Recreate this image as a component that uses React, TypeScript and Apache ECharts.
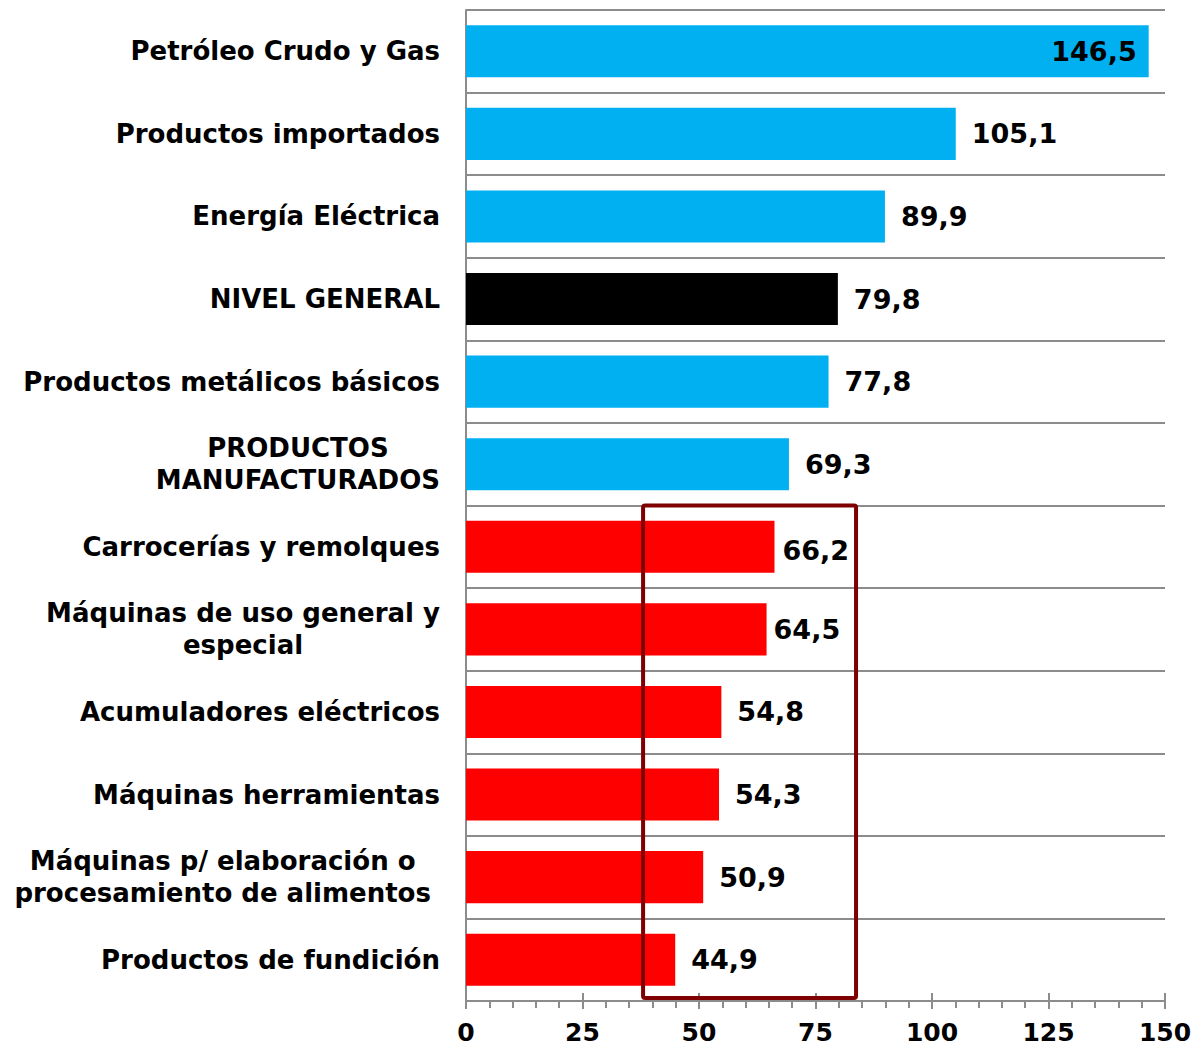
import React, { useEffect, useRef } from "react";
import * as echarts from "echarts";

const categories = [
  "Petróleo Crudo y Gas",
  "Productos importados",
  "Energía Eléctrica",
  "NIVEL GENERAL",
  "Productos metálicos básicos",
  "PRODUCTOS\nMANUFACTURADOS",
  "Carrocerías y remolques",
  "Máquinas de uso general y\nespecial",
  "Acumuladores eléctricos",
  "Máquinas herramientas",
  "Máquinas p/ elaboración o \nprocesamiento de alimentos ",
  "Productos de fundición",
];
const values = [146.5, 105.1, 89.9, 79.8, 77.8, 69.3, 66.2, 64.5, 54.8, 54.3, 50.9, 44.9];
const groups = ["blue", "blue", "blue", "black", "blue", "blue", "red", "red", "red", "red", "red", "red"];
const xTicks = [0, 25, 50, 75, 100, 125, 150];
const boxRange = [38, 83.7];
const boxFromIndex = 6;

const FONT = "'DejaVu Sans', Verdana, sans-serif";
const colorOf: Record<string, string> = { blue: "#00B0F0", red: "#FF0000", black: "#000000" };

export default function App() {
  const ref = useRef<HTMLDivElement>(null);
  useEffect(() => {
    document.body.style.margin = "0";
    const chart = echarts.init(ref.current!, null, { renderer: "svg" });
    const fmt = (v: number) => v.toFixed(1).replace(".", ",");
    const data = values.map((v, i) => {
      const item: any = { value: v, itemStyle: { color: colorOf[groups[i]] } };
      if (i === 0) item.label = { position: "insideRight", distance: 12 };
      if (i === 6) item.label = { distance: 8, offset: [0, 4] };
      if (i === 7) item.label = { distance: 7 };
      return item;
    });
    chart.setOption({
      animation: false,
      grid: { left: 466, right: 33, top: 10, bottom: 47, containLabel: false },
      xAxis: [
        {
          type: "value",
          min: xTicks[0],
          max: xTicks[xTicks.length - 1],
          interval: xTicks[1] - xTicks[0],
          axisLine: { show: true, lineStyle: { color: "#8c8c8c", width: 2 } },
          axisTick: { show: true, length: 8, lineStyle: { color: "#8c8c8c", width: 2 } },
          minorTick: { show: true, splitNumber: 5, length: 7, lineStyle: { color: "#8c8c8c", width: 2 } },
          axisLabel: {
            color: "#000",
            fontFamily: FONT,
            fontWeight: "bold",
            fontSize: 25,
            margin: 31,
            verticalAlign: "middle",
            lineHeight: 25,
          },
          splitLine: { show: false },
          minorSplitLine: { show: false },
        },
        {
          type: "value",
          position: "bottom",
          min: xTicks[0],
          max: xTicks[xTicks.length - 1],
          interval: xTicks[1] - xTicks[0],
          axisLine: { show: false },
          axisTick: { show: true, inside: true, length: 8, lineStyle: { color: "#8c8c8c", width: 2 } },
          axisLabel: { show: false },
          splitLine: { show: false },
        },
      ],
      yAxis: {
        type: "category",
        inverse: true,
        data: categories,
        axisLine: { show: true, lineStyle: { color: "#8c8c8c", width: 2 } },
        axisTick: { show: false },
        splitLine: { show: true, lineStyle: { color: "#8c8c8c", width: 2 } },
        axisLabel: {
          margin: 26,
          color: "#000",
          fontFamily: FONT,
          fontWeight: "bold",
          fontSize: 26,
          lineHeight: 32,
          formatter: (v: string) =>
            v.includes("\n") ? v.split("\n").map((l) => `{c|${l}}`).join("\n") : v,
          rich: {
            c: { align: "center", color: "#000", fontFamily: FONT, fontWeight: "bold", fontSize: 26, lineHeight: 32 },
          },
        },
      },
      series: [
        {
          type: "bar",
          xAxisIndex: 0,
          data,
          barCategoryGap: "37%",
          label: {
            show: true,
            position: "right",
            distance: 16,
            color: "#000",
            fontFamily: FONT,
            fontWeight: "bold",
            fontSize: 27,
            formatter: (p: any) => fmt(p.value),
          },
        },
      ],
    });
    const x0 = chart.convertToPixel({ xAxisIndex: 0 }, boxRange[0]) as number;
    const x1 = chart.convertToPixel({ xAxisIndex: 0 }, boxRange[1]) as number;
    const c0 = chart.convertToPixel({ yAxisIndex: 0 }, boxFromIndex) as number;
    const c1 = chart.convertToPixel({ yAxisIndex: 0 }, boxFromIndex + 1) as number;
    const half = (c1 - c0) / 2;
    const cl = chart.convertToPixel({ yAxisIndex: 0 }, categories.length - 1) as number;
    const top = c0 - half;
    const bottom = cl + half - 3;
    chart.setOption({
      graphic: [
        {
          type: "rect",
          shape: { x: x0, y: top, width: x1 - x0, height: bottom - top, r: 2 },
          style: { fill: "none", stroke: "#7F0000", lineWidth: 4 },
          z: 100,
        },
      ],
    });
    return () => chart.dispose();
  }, []);
  return <div ref={ref} style={{ width: 1198, height: 1048 }} />;
}
